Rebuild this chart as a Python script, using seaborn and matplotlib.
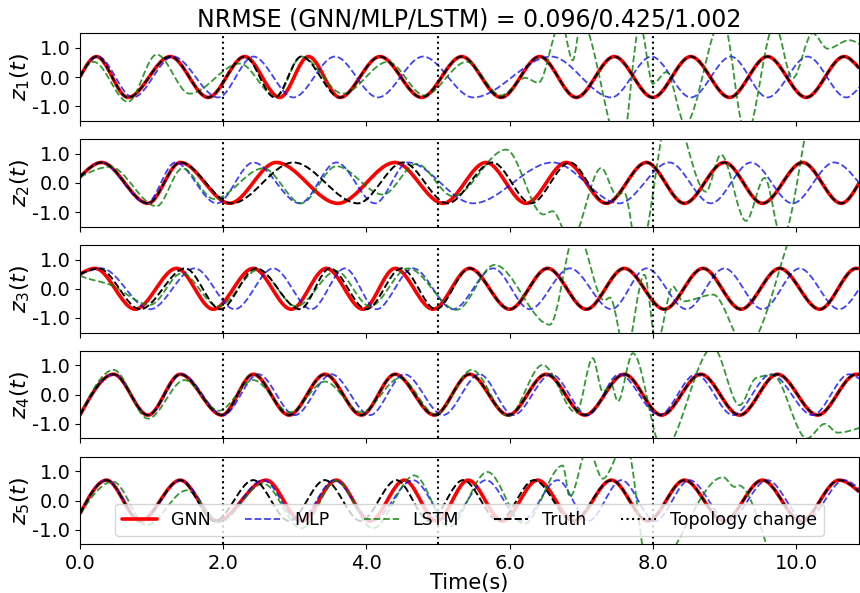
import numpy as np
import matplotlib
matplotlib.use("Agg")
import matplotlib.pyplot as plt
from matplotlib.path import Path
from matplotlib.patches import PathPatch
from matplotlib.lines import Line2D
from matplotlib.ticker import FormatStrFormatter
import seaborn as sns

# turning points (time, value), one list per curve
z1_gnn = [(0, 0.0), (0.23, 0.7), (0.67, -0.7), (1.26, 0.7), (1.79, -0.7), (2.30, 0.7), (2.79, -0.7),
          (3.19, 0.7), (3.63, -0.7), (4.19, 0.7), (4.77, -0.7), (5.33, 0.7), (5.88, -0.7), (6.42, 0.7),
          (6.93, -0.7), (7.46, 0.7), (8.00, -0.7), (8.53, 0.7), (9.07, -0.7), (9.60, 0.7), (10.14, -0.7),
          (10.67, 0.7), (10.88, 0.3)]
z1_mlp = [(0, 0.0), (0.25, 0.7), (0.74, -0.7), (1.30, 0.7), (1.93, -0.7), (2.42, 0.7), (2.98, -0.7),
          (3.56, 0.7), (4.16, -0.7), (4.79, 0.7), (5.49, -0.7), (6.58, 0.7), (7.42, -0.7), (7.98, 0.7),
          (8.53, -0.7), (9.09, 0.7), (9.60, -0.7), (10.16, 0.7), (10.70, -0.7), (10.88, -0.35)]
z1_lstm = [(0, 0.0), (0.19, 0.52), (0.67, -0.85), (1.07, 0.77), (1.53, -0.57), (2.23, 0.46), (2.74, -0.68),
           (3.09, 0.70), (3.67, -0.57), (4.30, 0.52), (4.81, -0.63), (5.40, 0.52), (5.88, -0.63),
           (6.22, -0.03), (6.40, -0.20), (6.72, 1.9), (6.88, 0.57), (7.00, 1.9), (7.56, -2.5), (7.82, 1.8),
           (8.00, -0.23), (8.19, 0.17), (8.45, -1.6), (8.97, 2.0), (9.30, -2.0), (9.70, 1.8),
           (9.95, -0.05), (10.23, 1.5), (10.44, 0.97), (10.74, 1.26), (10.88, 1.14)]
z1_truth = [(0, 0.0), (0.23, 0.7), (0.67, -0.7), (1.26, 0.7), (1.79, -0.7), (2.30, 0.7), (2.72, -0.7),
            (3.09, 0.7), (3.63, -0.7), (4.19, 0.7), (4.77, -0.7), (5.33, 0.7), (5.88, -0.7), (6.42, 0.7),
            (6.93, -0.7), (7.46, 0.7), (8.00, -0.7), (8.53, 0.7), (9.07, -0.7), (9.60, 0.7), (10.14, -0.7),
            (10.67, 0.7), (10.88, 0.3)]

z2_gnn = [(0, 0.2), (0.30, 0.7), (0.95, -0.7), (1.40, 0.7), (2.09, -0.7), (2.74, 0.7), (3.60, -0.7),
          (4.40, 0.7), (5.07, -0.7), (5.67, 0.7), (6.23, -0.7), (6.79, 0.7), (7.35, -0.7), (7.91, 0.7),
          (8.44, -0.7), (9.00, 0.7), (9.53, -0.7), (10.09, 0.7), (10.63, -0.7), (10.88, 0.0)]
z2_mlp = [(0, 0.2), (0.30, 0.7), (0.93, -0.7), (1.33, 0.7), (1.91, -0.7), (2.42, 0.7), (3.07, -0.7),
          (3.58, 0.7), (4.12, -0.7), (4.58, 0.7), (5.49, -0.7), (6.60, 0.7), (7.53, -0.7), (8.23, 0.7),
          (8.81, -0.7), (9.37, 0.7), (9.95, -0.7), (10.53, 0.7), (10.88, 0.0)]
z2_lstm = [(0, 0.2), (0.42, 0.55), (1.07, -0.8), (1.43, 0.5), (1.87, -0.55), (2.56, 0.5), (3.09, -0.7),
           (3.58, 0.57), (4.23, -0.4), (4.70, 0.65), (5.21, -0.46), (5.95, 1.14), (6.47, -1.08),
           (6.60, -0.97), (6.85, -2.0), (7.28, 0.51), (7.49, -0.40), (7.60, -0.34), (7.80, -2.5),
           (8.25, 2.6), (8.74, -0.30), (8.95, 0.97), (9.30, -1.3), (9.56, 0.17), (9.80, -1.9),
           (10.30, 3.0), (10.88, 2.4)]
z2_truth = [(0, 0.2), (0.30, 0.7), (0.95, -0.7), (1.40, 0.7), (2.12, -0.7), (2.98, 0.7), (3.88, -0.7),
            (4.51, 0.7), (5.13, -0.7), (5.76, 0.7), (6.30, -0.7), (6.84, 0.7), (7.35, -0.7), (7.91, 0.7),
            (8.44, -0.7), (9.00, 0.7), (9.53, -0.7), (10.09, 0.7), (10.63, -0.7), (10.88, 0.0)]

z3_gnn = [(0, 0.5), (0.21, 0.7), (0.77, -0.7), (1.35, 0.7), (1.86, -0.7), (2.42, 0.7), (2.95, -0.7),
          (3.44, 0.7), (3.95, -0.7), (4.40, 0.7), (4.93, -0.7), (5.44, 0.7), (6.00, -0.7), (6.53, 0.7),
          (7.07, -0.7), (7.60, 0.7), (8.16, -0.7), (8.70, 0.7), (9.23, -0.7), (9.77, 0.7), (10.33, -0.7),
          (10.84, 0.7), (10.88, 0.69)]
z3_mlp = [(0, 0.5), (0.30, 0.7), (0.98, -0.7), (1.60, 0.7), (2.16, -0.7), (2.70, 0.7), (3.23, -0.7),
          (3.70, 0.7), (4.14, -0.7), (4.65, 0.7), (5.21, -0.7), (5.77, 0.7), (6.28, -0.7), (6.84, 0.7),
          (7.42, -0.7), (7.91, 0.7), (8.47, -0.7), (9.00, 0.7), (9.53, -0.7), (10.05, 0.7), (10.60, -0.7),
          (10.88, 0.0)]
z3_lstm = [(0, 0.45), (0.42, 0.14), (0.98, -0.55), (1.42, 0.53), (1.93, -0.6), (2.49, 0.65), (3.02, -0.6),
           (3.58, 0.61), (4.05, -0.6), (4.58, 0.7), (5.26, -0.72), (5.79, 0.82), (6.56, -1.23),
           (6.93, 2.0), (7.32, -0.4), (7.40, -0.3), (7.62, -2.2), (7.88, 0.48), (8.05, -1.9),
           (8.28, 0.08), (8.42, -0.43), (8.84, -0.2), (9.30, -2.0), (10.20, 3.0), (10.88, 2.2)]
z3_truth = [(0, 0.5), (0.26, 0.7), (0.84, -0.7), (1.47, 0.7), (1.96, -0.7), (2.46, 0.7), (3.07, -0.7),
            (3.49, 0.7), (4.00, -0.7), (4.49, 0.7), (4.97, -0.7), (5.44, 0.7), (6.00, -0.7), (6.53, 0.7),
            (7.07, -0.7), (7.60, 0.7), (8.16, -0.7), (8.70, 0.7), (9.23, -0.7), (9.77, 0.7), (10.33, -0.7),
            (10.84, 0.7), (10.88, 0.69)]

z4_gnn = [(0, -0.7), (0.47, 0.7), (0.95, -0.7), (1.40, 0.7), (1.98, -0.7), (2.42, 0.7), (2.92, -0.7),
          (3.42, 0.7), (3.93, -0.7), (4.40, 0.7), (4.95, -0.7), (5.44, 0.7), (5.98, -0.7), (6.51, 0.7),
          (7.05, -0.7), (7.60, 0.7), (8.12, -0.7), (8.67, 0.7), (9.21, -0.7), (9.74, 0.7), (10.30, -0.7),
          (10.84, 0.7), (10.88, 0.69)]
z4_mlp = [(0, -0.7), (0.47, 0.7), (0.95, -0.7), (1.42, 0.7), (2.00, -0.7), (2.49, 0.7), (3.00, -0.7),
          (3.51, 0.7), (4.05, -0.7), (4.53, 0.7), (5.07, -0.7), (5.58, 0.7), (6.05, -0.7), (6.58, 0.7),
          (7.09, -0.7), (7.53, 0.7), (8.09, -0.7), (8.60, 0.7), (9.12, -0.7), (9.65, 0.7), (10.23, -0.7),
          (10.74, 0.7), (10.88, 0.55)]
z4_lstm = [(0, -0.7), (0.47, 0.85), (0.95, -0.82), (1.46, 0.5), (1.94, -0.55), (2.42, 0.5), (2.93, -0.6),
           (3.42, 0.45), (3.93, -0.6), (4.47, 0.57), (4.97, -0.68), (5.47, 0.85), (5.98, -0.74),
           (6.46, 1.02), (6.93, -0.62), (7.16, 1.25), (7.30, 0.1), (7.42, 0.34), (7.51, -0.23),
           (7.72, 1.42), (8.14, -1.9), (8.84, 1.62), (9.21, -0.36), (9.44, 0.57), (9.67, 0.68),
           (10.15, -1.5), (10.40, -1.0), (10.58, -1.3), (10.88, -1.14)]
z4_truth = [(0, -0.7), (0.47, 0.7), (0.95, -0.7), (1.40, 0.7), (1.98, -0.7), (2.42, 0.7), (2.92, -0.7),
            (3.42, 0.7), (3.93, -0.7), (4.40, 0.7), (4.95, -0.7), (5.44, 0.7), (5.98, -0.7), (6.51, 0.7),
            (7.05, -0.7), (7.60, 0.7), (8.12, -0.7), (8.67, 0.7), (9.21, -0.7), (9.74, 0.7), (10.30, -0.7),
            (10.84, 0.7), (10.88, 0.69)]

z5_gnn = [(0, -0.45), (0.37, 0.7), (0.84, -0.7), (1.40, 0.7), (1.91, -0.7), (2.60, 0.7), (3.09, -0.7),
          (3.58, 0.7), (4.05, -0.7), (4.53, 0.7), (4.98, -0.7), (5.42, 0.7), (5.90, -0.7), (6.39, 0.7),
          (6.90, -0.7), (7.42, 0.7), (7.93, -0.7), (8.44, 0.7), (8.99, -0.7), (9.53, 0.7), (10.07, -0.7),
          (10.60, 0.7), (10.88, 0.3)]
z5_mlp = [(0, -0.45), (0.37, 0.7), (0.86, -0.7), (1.40, 0.7), (1.95, -0.7), (2.56, 0.7), (3.06, -0.7),
          (3.55, 0.7), (4.08, -0.7), (4.65, 0.7), (5.15, -0.7), (5.67, 0.7), (6.17, -0.7), (6.67, 0.7),
          (7.10, -0.7), (7.56, 0.7), (8.03, -0.7), (8.51, 0.7), (9.05, -0.7), (9.60, 0.7), (10.13, -0.7),
          (10.67, 0.7), (10.88, 0.4)]
z5_lstm = [(0, -0.45), (0.46, 0.65), (0.93, -0.84), (1.49, 0.35), (1.95, -0.73), (2.56, 0.58),
           (3.09, -0.95), (3.58, 0.69), (4.09, -0.95), (4.67, 0.86), (5.15, -0.9), (5.69, 0.98),
           (6.20, -0.8), (6.74, 1.2), (6.84, 0.12), (7.09, 1.8), (7.30, 0.75), (7.62, 2.0),
           (7.95, -2.5), (8.98, 0.8), (9.14, 0.47), (9.20, 0.52), (9.90, -3.0), (10.88, -2.2)]
z5_truth = [(0, -0.45), (0.37, 0.7), (0.84, -0.7), (1.40, 0.7), (1.88, -0.7), (2.42, 0.7), (2.92, -0.7),
            (3.42, 0.7), (3.92, -0.7), (4.42, 0.7), (4.88, -0.7), (5.35, 0.7), (5.85, -0.7), (6.34, 0.7),
            (6.88, -0.7), (7.42, 0.7), (7.93, -0.7), (8.44, 0.7), (8.99, -0.7), (9.53, 0.7), (10.07, -0.7),
            (10.60, 0.7), (10.88, 0.3)]

panels = [
    (z1_gnn, z1_mlp, z1_lstm, z1_truth),
    (z2_gnn, z2_mlp, z2_lstm, z2_truth),
    (z3_gnn, z3_mlp, z3_lstm, z3_truth),
    (z4_gnn, z4_mlp, z4_lstm, z4_truth),
    (z5_gnn, z5_mlp, z5_lstm, z5_truth),
]
series_names = ["GNN", "MLP", "LSTM", "Truth"]
topology_changes = [2.0, 5.0, 8.0]
nrmse_models = ["GNN", "MLP", "LSTM"]
nrmse_values = [0.096, 0.425, 1.002]
t_end = 10.88

styles = {
    "GNN": dict(color="#ff0000", lw=2.6, ls="-", alpha=1.0),
    "MLP": dict(color="#0000ff", lw=1.3, ls="--", alpha=0.75),
    "LSTM": dict(color="#008000", lw=1.3, ls="--", alpha=0.8),
    "Truth": dict(color="#000000", lw=1.4, ls="--", alpha=1.0),
}


def smooth_path(pts):
    # cubic pieces through the turning points, flat at every extremum
    t = np.array([p[0] for p in pts], dtype=float)
    v = np.array([p[1] for p in pts], dtype=float)
    d = np.diff(v) / np.diff(t)
    m = np.zeros(len(t))
    for i in range(1, len(t) - 1):
        if d[i - 1] * d[i] > 0:
            m[i] = 2.0 / (1.0 / d[i - 1] + 1.0 / d[i])
    m[0] = 1.5 * d[0]
    m[-1] = 1.5 * d[-1]
    verts = [(t[0], v[0])]
    codes = [Path.MOVETO]
    for i in range(len(t) - 1):
        h = t[i + 1] - t[i]
        verts += [(t[i] + h / 3, v[i] + m[i] * h / 3),
                  (t[i + 1] - h / 3, v[i + 1] - m[i + 1] * h / 3),
                  (t[i + 1], v[i + 1])]
        codes += [Path.CURVE4] * 3
    return Path(verts, codes)


sns.set_theme(style="ticks", color_codes=False, rc={
    "axes.edgecolor": "black", "axes.linewidth": 0.8,
    "xtick.color": "black", "ytick.color": "black",
    "axes.labelcolor": "black", "text.color": "black",
    "xtick.major.size": 3.5, "ytick.major.size": 3.5,
    "xtick.major.width": 0.8, "ytick.major.width": 0.8,
})
plt.rcParams["font.family"] = ["DejaVu Sans"]

fig, axes = plt.subplots(5, 1, figsize=(8.6, 5.93), dpi=100, sharex=True)
fig.subplots_adjust(left=0.093, right=0.999, top=0.944, bottom=0.082, hspace=0.209)

for k, (ax, curves) in enumerate(zip(axes, panels)):
    for name, pts in zip(series_names, curves):
        st = styles[name]
        ax.add_patch(PathPatch(smooth_path(pts), fill=False, edgecolor=st["color"],
                               lw=st["lw"], ls=st["ls"], alpha=st["alpha"]))
    for tc in topology_changes:
        ax.axvline(tc, color="black", ls=":", lw=1.5)
    ax.set_xlim(0, t_end)
    ax.set_ylim(-1.5, 1.5)
    ax.set_yticks([-1.0, 0.0, 1.0])
    ax.yaxis.set_major_formatter(FormatStrFormatter("%.1f"))
    ax.tick_params(axis="y", labelsize=14)
    ax.set_ylabel(f"$z_{k + 1}(t)$", fontsize=16)
    ax.yaxis.set_label_coords(-0.062, 0.5)

axes[-1].set_xticks([0, 2, 4, 6, 8, 10])
axes[-1].xaxis.set_major_formatter(FormatStrFormatter("%.1f"))
axes[-1].tick_params(axis="x", labelsize=14)
axes[-1].set_xlabel("Time(s)", fontsize=15, labelpad=0)

title = "NRMSE (" + "/".join(nrmse_models) + ") = " + "/".join(f"{x:.3f}" for x in nrmse_values)
axes[0].set_title(title, fontsize=17, pad=5)

handles = [Line2D([], [], color=styles[n]["color"], lw=styles[n]["lw"], ls=styles[n]["ls"],
                  alpha=styles[n]["alpha"]) for n in series_names]
handles.append(Line2D([], [], color="black", ls=":", lw=1.5))
axes[-1].legend(handles, series_names + ["Topology change"], loc="lower center", ncol=5,
                fontsize=12.5, framealpha=0.8)

fig.savefig("out.png", dpi=100)
